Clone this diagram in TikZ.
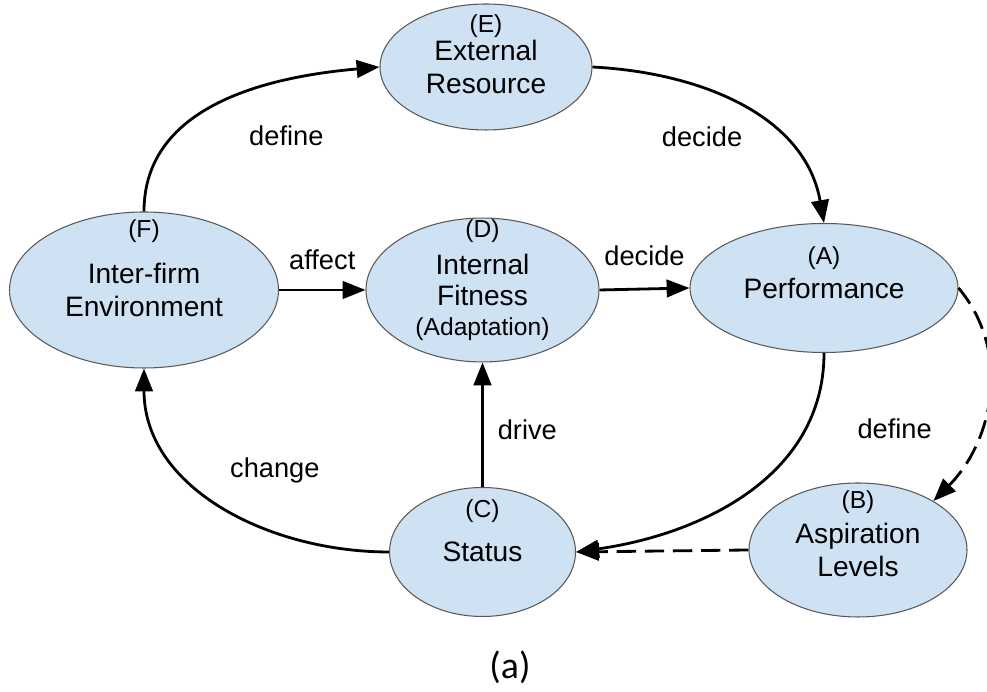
\documentclass[tikz,border=0pt]{standalone}
\usepackage{fontspec}
\setmainfont{Liberation Sans}
\newfontfamily\capfont{Carlito}
\usetikzlibrary{shapes.geometric, arrows.meta}
\definecolor{boxblue}{RGB}{207,226,243}

\begin{document}
\begin{tikzpicture}[
    state/.style={ellipse, draw=black!65, line width=0.6pt, fill=boxblue, inner sep=0pt, align=center, font=\fontsize{16}{18.5}\selectfont},
    tag/.style={inner sep=0pt, text height=9.5pt, text depth=2pt, font=\fontsize{14}{16}\selectfont},
    link/.style={line width=1.6pt, -{Triangle[length=13pt, width=10pt]}},
    weak/.style={link, dash pattern=on 11pt off 5pt},
    lbl/.style={font=\fontsize{15.5}{18}\selectfont}
  ]
    \useasboundingbox (0,0) rectangle (19.74,13.84);

    \node[state, minimum width=5.38cm, minimum height=3.12cm, label={[tag, label distance=-16.8pt]90:(F)}] (env) at (2.88,8.04) {Inter-firm\\Environment};
    \node[state, minimum width=4.24cm, minimum height=2.52cm, label={[tag, label distance=-18.5pt]90:(E)}] (ext) at (9.72,12.50) {External\\Resource};
    \node[state, minimum width=4.66cm, minimum height=2.76cm, font=\fontsize{16}{17.5}\selectfont, label={[tag, label distance=-13.6pt]90:(D)}] (fit) at (9.65,8.04) {\rule{0pt}{20pt}Internal\\Fitness\\{\fontsize{14}{17}\selectfont (Adaptation)}};
    \node[state, minimum width=5.36cm, minimum height=2.58cm, label={[tag, label distance=-25.9pt]90:(A)}] (perf) at (16.48,8.08) {Performance};
    \node[state, minimum width=3.72cm, minimum height=2.58cm, label={[tag, label distance=-19.7pt]90:(C)}] (stat) at (9.65,2.80) {Status};
    \node[state, minimum width=4.36cm, minimum height=2.68cm, label={[tag, label distance=-16.8pt]90:(B)}] (asp) at (17.16,2.84) {Aspiration\\Levels};

    \draw[link] (env.north) to[out=90, in=185] node[lbl, xshift=36.9pt, yshift=-19.3pt] {define} (ext.west);
    \draw[link] (ext.east) to[out=-3, in=100] node[lbl, xshift=-22.7pt, yshift=-17pt] {decide} (perf.north);
    \draw[link] (env.east) -- (fit.west) node[lbl, midway, yshift=17pt] {affect};
    \draw[link] (fit.east) -- (perf.west) node[lbl, midway, yshift=18.7pt] {decide};
    \draw[weak] (perf.east) to[out=-50, in=45] node[lbl, xshift=-53.3pt, yshift=-18.7pt] {define} (asp.33);
    \draw[link] (perf.south) to[out=-90, in=8] (stat.east);
    \draw[weak] (asp.west) -- (stat.east);
    \draw[link] (stat.north) -- (fit.south) node[lbl, midway, xshift=25.5pt, yshift=-2.8pt] {drive};
    \draw[link] (stat.west) to[out=180, in=-90] node[lbl, xshift=30.3pt, yshift=19.8pt] {change} (env.south);

    \node[font=\fontsize{21.5}{24}\capfont] (cap) at (10.20,0.50) {(a)};
\end{tikzpicture}
\end{document}
